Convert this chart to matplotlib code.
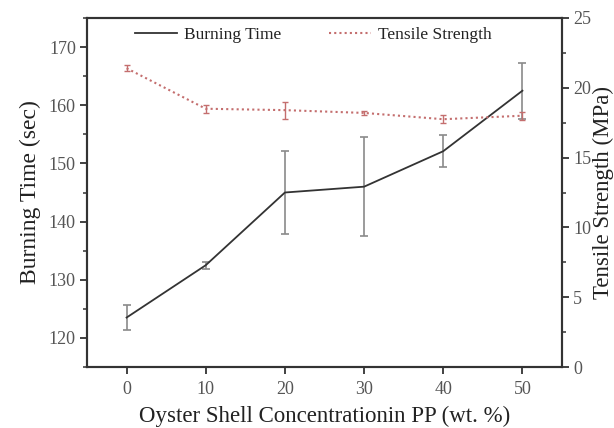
import numpy as np
import matplotlib
matplotlib.use("Agg")
import matplotlib.pyplot as plt
from matplotlib.ticker import MultipleLocator
from matplotlib.lines import Line2D

plt.rcParams['font.family'] = ['Liberation Serif', 'DejaVu Serif']

# data
conc = [0, 10, 20, 30, 40, 50]
burn_time = [123.5, 132.5, 145.0, 146.0, 152.1, 162.5]
burn_err = [2.1, 0.6, 7.1, 8.5, 2.8, 4.8]
tensile = [21.4, 18.5, 18.4, 18.2, 17.75, 18.0]
tensile_err = [0.2, 0.3, 0.6, 0.15, 0.27, 0.3]
labels = ['Burning Time', 'Tensile Strength']

fig = plt.figure(figsize=(6.14, 4.28), dpi=100)
ax = fig.add_axes([87/614, 1 - 367/428, (562-87)/614, (367-18)/428])
ax2 = ax.twinx()

ax.errorbar(conc, burn_time, yerr=burn_err, color='#333333', lw=1.3,
            ecolor='#8a8a8a', elinewidth=1.2, capsize=3, capthick=1.2)
ax2.errorbar(conc, tensile, yerr=tensile_err, color='#c46e6e', lw=1.5,
             ls=(0, (1, 1.5)), ecolor='#c46e6e', elinewidth=1.0, capsize=2.5,
             capthick=1.0)

ax.set_xlim(-5, 55)
ax.set_ylim(115, 175)
ax2.set_ylim(0, 25)
ax.set_xticks(conc)
ax.yaxis.set_major_locator(MultipleLocator(10))
ax.yaxis.set_minor_locator(MultipleLocator(5))
ax2.yaxis.set_major_locator(MultipleLocator(5))
ax2.yaxis.set_minor_locator(MultipleLocator(2.5))

for a in (ax, ax2):
    for s in a.spines.values():
        s.set_linewidth(1.5)
        s.set_color('#333333')
    a.tick_params(which='major', direction='out', length=5, width=1.3,
                  color='#333333', labelsize=13, labelcolor='#555555', pad=3)
    a.tick_params(which='minor', direction='out', length=3, width=1.1,
                  color='#333333')
ax.tick_params(axis='x', pad=5)

ax.set_xlabel('Oyster Shell Concentrationin PP (wt. %)', fontsize=16.5,
              color='#222222', labelpad=6)
ax.set_ylabel('Burning Time (sec)', fontsize=17, color='#222222', labelpad=6)
ax2.set_ylabel('Tensile Strength (MPa)', fontsize=16.5, color='#222222',
               labelpad=1)

handles = [Line2D([], [], color='#333333', lw=1.3),
           Line2D([], [], color='#c46e6e', lw=1.5, ls=(0, (1, 1.5)))]
ax.legend(handles, labels, loc='upper left', bbox_to_anchor=(0.068, 1.02),
          ncol=2, frameon=False, fontsize=12.5, handlelength=2.4,
          columnspacing=2.8, handletextpad=0.4, labelcolor='#222222')

fig.savefig('out.png', dpi=100)
